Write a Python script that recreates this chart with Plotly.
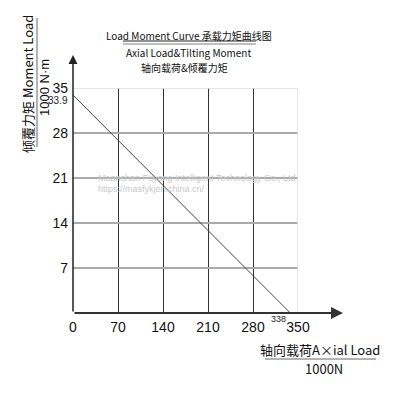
import plotly.graph_objects as go

# Load moment curve: axial load (1000N) vs tilting moment (1000 N·m)
axial_load = [0, 338]
moment_load = [33.9, 0]

x_ticks = [0, 70, 140, 210, 280, 350]
y_ticks = [7, 14, 21, 28, 35]

narrow = "Liberation Sans Narrow, Liberation Sans, sans-serif"
cjk = "Noto Sans CJK SC, Liberation Sans, sans-serif"


def px_x(p):
    # screen pixel -> paper coordinate (plot area is 73..298 px on screen)
    return (p - 73) / 225.0


def px_y(p):
    return (313 - p) / 225.0


fig = go.Figure()

fig.add_trace(go.Scatter(
    x=axial_load, y=moment_load,
    mode='lines',
    line=dict(color='#444444', width=1),
    showlegend=False,
    hoverinfo='skip'
))

# small end-point labels
fig.add_annotation(x=0, y=moment_load[0], text=str(moment_load[0]), showarrow=False,
                   xanchor='right', yanchor='middle', xshift=-3, yshift=-5,
                   font=dict(family=narrow, size=10, color='#222'))
fig.add_annotation(x=axial_load[1], y=0, text=str(axial_load[1]), showarrow=False,
                   xanchor='center', yanchor='top', xshift=-12, yshift=1,
                   font=dict(family=narrow, size=9, color='#222'))

# light border at top / right
fig.add_shape(type='line', xref='x', yref='y', x0=0, x1=350, y0=35, y1=35,
              line=dict(color='#dddddd', width=1.5))
fig.add_shape(type='line', xref='x', yref='y', x0=350, x1=350, y0=0, y1=35,
              line=dict(color='#dddddd', width=1.5))

# axis lines with arrows
fig.add_annotation(x=px_x(343), y=0, xref='paper', yref='paper', ax=-270, ay=0,
                   axref='pixel', ayref='pixel', text='', showarrow=True,
                   arrowhead=2, arrowsize=1.2, arrowwidth=2, arrowcolor='#333')
fig.add_annotation(x=0, y=px_y(55), xref='paper', yref='paper', ax=0, ay=258,
                   axref='pixel', ayref='pixel', text='', showarrow=True,
                   arrowhead=2, arrowsize=1.2, arrowwidth=1.5, arrowcolor='#222')

texts = [
    (189, 35, 'Load Moment Curve 承载力矩曲线图', 10),
    (188, 52, 'Axial Load&Tilting Moment', 10),
    (184, 67, '轴向载荷&倾覆力矩', 10),
    (320, 349, '轴向载荷A×ial Load', 13),
    (324, 368, '1000N', 13),
]
for x, y, t, s in texts:
    fig.add_annotation(x=px_x(x), y=px_y(y), xref='paper', yref='paper', text=t,
                       showarrow=False, xanchor='center', yanchor='middle',
                       font=dict(family=cjk, size=s, color='#111'))

fig.add_annotation(x=px_x(27), y=px_y(84), xref='paper', yref='paper',
                   text='倾覆力矩 Moment Load', textangle=-90, showarrow=False,
                   xanchor='center', yanchor='middle',
                   font=dict(family=cjk, size=13, color='#111'))
fig.add_annotation(x=px_x(44), y=px_y(88), xref='paper', yref='paper',
                   text='1000 N·m', textangle=-90, showarrow=False,
                   xanchor='center', yanchor='middle',
                   font=dict(family=narrow, size=13, color='#111'))

# underlines
fig.add_shape(type='line', xref='paper', yref='paper', x0=px_x(123), x1=px_x(256),
              y0=px_y(41), y1=px_y(41), line=dict(color='#222', width=1))
fig.add_shape(type='line', xref='paper', yref='paper', x0=px_x(123), x1=px_x(256),
              y0=px_y(44), y1=px_y(44), line=dict(color='#aaa', width=1.5))
fig.add_shape(type='line', xref='paper', yref='paper', x0=px_x(265), x1=px_x(376),
              y0=px_y(359), y1=px_y(359), line=dict(color='#999', width=1.5))
fig.add_shape(type='line', xref='paper', yref='paper', x0=px_x(37), x1=px_x(37),
              y0=px_y(18), y1=px_y(147), line=dict(color='#999', width=1.5))

# watermark
fig.add_annotation(x=px_x(96), y=px_y(178), xref='paper', yref='paper',
                   text='Maanshan Fuyong Intelligent Technology Co., Ltd', showarrow=False,
                   xanchor='left', yanchor='middle',
                   font=dict(family='Liberation Sans, sans-serif', size=9, color='#c8c8c8'))
fig.add_annotation(x=px_x(96), y=px_y(189), xref='paper', yref='paper',
                   text='https://masfykjen.china.cn/', showarrow=False,
                   xanchor='left', yanchor='middle',
                   font=dict(family='Liberation Sans, sans-serif', size=9, color='#c8c8c8'))

# page body adds an 8px offset, so margins are reduced by 8
fig.update_layout(
    width=400, height=400,
    margin=dict(l=65, r=110, t=80, b=95),
    plot_bgcolor='white', paper_bgcolor='white',
    showlegend=False,
    font=dict(family=narrow, size=14, color='#111'),
)
fig.update_xaxes(
    range=[0, 350], tickvals=x_ticks, ticktext=[str(v) for v in x_ticks],
    showgrid=True, gridcolor='#333333', gridwidth=1.2,
    zeroline=False, showline=False, ticks='', ticklabelstandoff=4,
    fixedrange=True,
)
fig.update_yaxes(
    range=[0, 35], tickvals=y_ticks, ticktext=[str(v) for v in y_ticks],
    showgrid=True, gridcolor='#aaaaaa', gridwidth=1.5,
    zeroline=False, showline=False, ticks='', ticklabelstandoff=4,
    fixedrange=True,
)

fig.write_html("out.html")
